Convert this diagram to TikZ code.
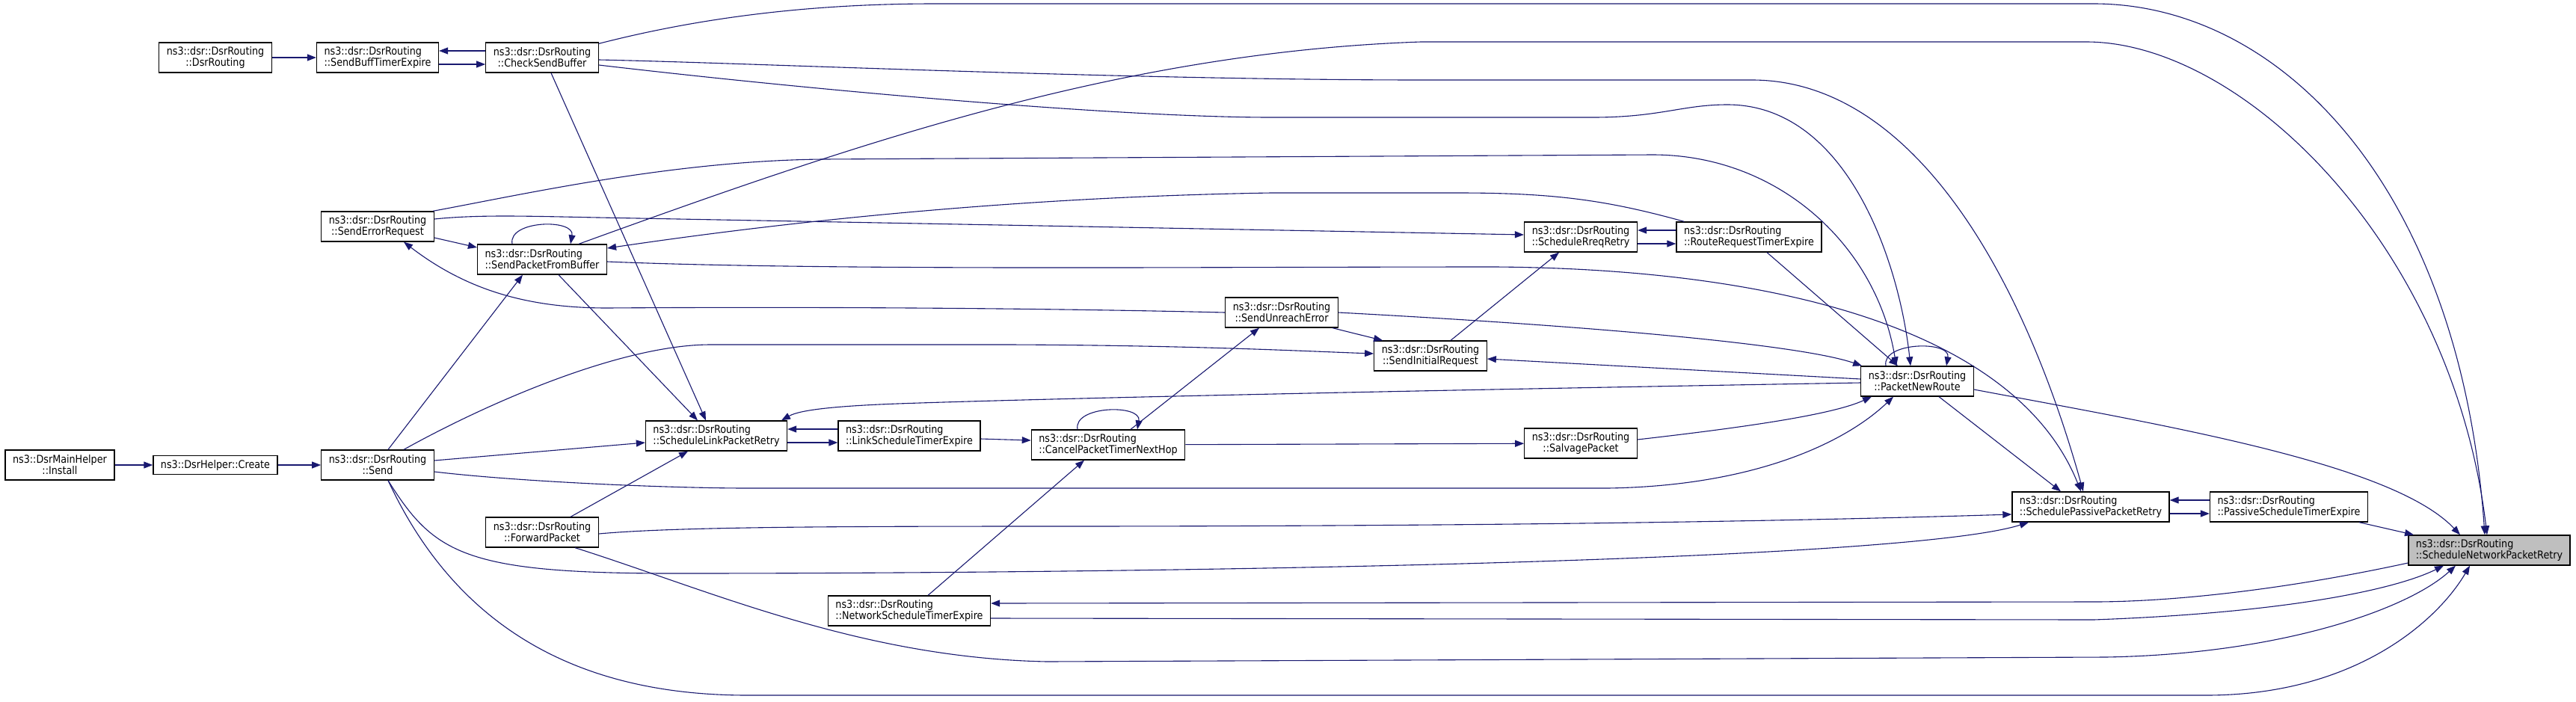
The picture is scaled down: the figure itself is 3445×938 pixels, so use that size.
\documentclass[tikz,border=0pt]{standalone}
\usepackage{fontspec}
\setmainfont{DejaVu Sans}[FakeStretch=0.88]
\usetikzlibrary{arrows.meta,positioning}
\definecolor{edgeblue}{HTML}{191970}

\begin{document}
\begin{tikzpicture}[x=1pt,y=-1pt,
  fn/.style={draw=black, line width=1.3pt, fill=white, inner xsep=10pt, inner ysep=0pt,
    minimum height=40pt, align=center, font=\fontsize{14.5}{15}\selectfont},
  fnl/.style={fn, align=left},
  call/.style={draw=edgeblue, line width=1.1pt, -{Triangle[length=12pt,width=9pt]}}]
\fill[white] (0,0) rectangle (3445,938);
\node[fn] (inst) at (80,622) {ns3::DsrMainHelper\\::Install};
\node[fn, minimum height=25pt] (crt) at (288,622) {ns3::DsrHelper::Create};
\node[fn] (dsr) at (288,77) {ns3::dsr::DsrRouting\\::DsrRouting};
\node[fnl] (sbte) at (505,77) {ns3::dsr::DsrRouting\\::SendBuffTimerExpire};
\node[fn] (csb) at (725,77) {ns3::dsr::DsrRouting\\::CheckSendBuffer};
\node[fn] (ser) at (505,303) {ns3::dsr::DsrRouting\\::SendErrorRequest};
\node[fn] (send) at (505,622) {ns3::dsr::DsrRouting\\::Send};
\node[fnl] (spfb) at (725,347) {ns3::dsr::DsrRouting\\::SendPacketFromBuffer};
\node[fn] (fwd) at (725,712) {ns3::dsr::DsrRouting\\::ForwardPacket};
\node[fnl] (slpr) at (958,583) {ns3::dsr::DsrRouting\\::ScheduleLinkPacketRetry};
\node[fnl] (nste) at (1216,817) {ns3::dsr::DsrRouting\\::NetworkScheduleTimerExpire};
\node[fnl] (lste) at (1216,583) {ns3::dsr::DsrRouting\\::LinkScheduleTimerExpire};
\node[fnl] (cptnh) at (1482,595) {ns3::dsr::DsrRouting\\::CancelPacketTimerNextHop};
\node[fn] (sue) at (1714,418) {ns3::dsr::DsrRouting\\::SendUnreachError};
\node[fn] (sir) at (1913,476) {ns3::dsr::DsrRouting\\::SendInitialRequest};
\node[fn] (srr) at (2114,317) {ns3::dsr::DsrRouting\\::ScheduleRreqRetry};
\node[fn] (salv) at (2114,593) {ns3::dsr::DsrRouting\\::SalvagePacket};
\node[fnl] (rrte) at (2339,317) {ns3::dsr::DsrRouting\\::RouteRequestTimerExpire};
\node[fn] (pnr) at (2564,510) {ns3::dsr::DsrRouting\\::PacketNewRoute};
\node[fnl] (sppr) at (2796,678) {ns3::dsr::DsrRouting\\::SchedulePassivePacketRetry};
\node[fnl] (pste) at (3061,678) {ns3::dsr::DsrRouting\\::PassiveScheduleTimerExpire};
\node[fnl, fill=black!25] (snpr) at (3329,736) {ns3::dsr::DsrRouting\\::ScheduleNetworkPacketRetry};

\draw[call] (inst) -- (crt);
\draw[call] (crt) -- (send);
\draw[call] (dsr) -- (sbte);
\draw[call] ([yshift=9pt]csb.west) -- ([yshift=9pt]sbte.east);
\draw[call] ([yshift=-9pt]sbte.east) -- ([yshift=-9pt]csb.west);
\draw[call] ([yshift=-15pt]ser.east) -- ([yshift=16pt]spfb.west);
\draw[call] ([xshift=-40pt]spfb.north) .. controls +(-6,-32) and +(6,-34) .. ([xshift=38pt]spfb.north);
\draw[call] (sue.west) .. controls (1300,410) and (950,411) .. (812,412) .. controls (700,412) and (620,385) .. ([xshift=35pt]ser.south);
\draw[call] ([xshift=14pt]send.north) -- ([xshift=-26pt]spfb.south);
\draw[call] ([xshift=22pt]spfb.south) -- ([xshift=-25pt]slpr.north);
\draw[call] ([xshift=12pt]csb.south) -- ([xshift=-14pt]slpr.north);
\draw[call] ([yshift=6pt]send.east) -- ([yshift=-9pt]slpr.west);
\draw[call] ([xshift=38pt]fwd.north) -- ([xshift=-38pt]slpr.south);
\draw[call] ([yshift=9pt]lste.west) -- ([yshift=9pt]slpr.east);
\draw[call] ([yshift=-9pt]slpr.east) -- ([yshift=-9pt]lste.west);
\draw[call] ([yshift=-4pt]lste.east) -- ([yshift=6pt]cptnh.west);
\draw[call] ([xshift=-41pt]cptnh.north) .. controls +(-6,-32) and +(6,-34) .. ([xshift=39pt]cptnh.north);
\draw[call] ([xshift=30pt]cptnh.north) -- ([xshift=-30pt]sue.south);
\draw[call] ([xshift=25pt]nste.north) -- ([xshift=-32pt]cptnh.south);
\draw[call] (cptnh) -- (salv);
\draw[call] ([xshift=-8pt]sue.south east) -- ([xshift=12pt]sir.north west);
\draw[call] ([xshift=27pt]sir.north) -- ([xshift=-29pt]srr.south);
\draw[call] ([yshift=3pt]pnr.west) -- ([yshift=-4pt]sir.east);
\draw[call] ([yshift=9pt]rrte.west) -- ([yshift=9pt]srr.east);
\draw[call] ([yshift=-9pt]srr.east) -- ([yshift=-9pt]rrte.west);
\draw[call] ([yshift=10pt]ser.east) .. controls (640,287) and (700,289) .. (800,291) -- ([yshift=3pt]srr.west);
\draw[call] ([xshift=11pt]rrte.north west) .. controls (2150,268) and (2080,258) .. (1950,258) -- (1700,258) .. controls (1450,262) and (1150,282) .. ([yshift=15pt]spfb.east);
\draw[call] ([xshift=24pt]rrte.south) -- ([xshift=-26pt]pnr.north);
\draw[call] (sue.east) .. controls (2200,440) and (2420,465) .. ([xshift=2pt]pnr.north west);
\draw[call] ([xshift=-42pt]pnr.north) .. controls +(-6,-32) and +(6,-34) .. ([xshift=39pt]pnr.north);
\draw[call] ([yshift=5pt]salv.east) .. controls (2330,572) and (2450,555) .. ([xshift=-61pt]pnr.south);
\draw[call] ([yshift=-9pt]send.east) .. controls (700,645) and (900,653) .. (1000,653) -- (2150,653) .. controls (2350,650) and (2470,590) .. ([xshift=-32pt]pnr.south);
\draw[call] ([xshift=35pt]send.north) .. controls (650,540) and (830,461) .. (950,461) -- (1350,461) .. controls (1600,462) and (1750,470) .. ([yshift=3pt]sir.west);
\draw[call] ([yshift=-2pt]pnr.west) .. controls (1900,522) and (1400,533) .. (1200,540) .. controls (1120,543) and (1070,548) .. ([xshift=87pt]slpr.north);
\draw[call] ([yshift=-11pt]pnr.east) .. controls (2900,570) and (3200,620) .. ([xshift=-39pt]snpr.north);
\draw[call] ([xshift=29pt]pnr.south) -- ([xshift=-40pt]sppr.north);
\draw[call] ([yshift=9pt]pste.west) -- ([yshift=9pt]sppr.east);
\draw[call] ([yshift=-9pt]sppr.east) -- ([yshift=-9pt]pste.west);
\draw[call] ([xshift=94pt]pste.south) -- ([xshift=-101pt]snpr.north);
\draw[call] ([yshift=-2pt]fwd.east) .. controls (900,705) and (1100,704) .. (1400,704) .. controls (2000,704) and (2400,697) .. ([yshift=-10pt]sppr.west);
\draw[call] ([xshift=14pt]send.south) .. controls (580,740) and (620,767) .. (900,767) .. controls (1600,767) and (2550,750) .. ([xshift=-83pt]sppr.south);
\draw[call] ([xshift=44pt]fwd.south) .. controls (950,790) and (1150,880) .. (1400,885) -- (2816,879) .. controls (3050,875) and (3220,815) .. ([xshift=-45pt]snpr.south);
\draw[call] ([xshift=14pt]send.south) .. controls (620,860) and (800,930) .. (1000,930) -- (2950,930) .. controls (3150,930) and (3260,830) .. ([xshift=-26pt]snpr.south);
\draw[call] ([yshift=-10pt]nste.east) -- (2800,829) .. controls (3050,820) and (3200,790) .. ([xshift=-61pt]snpr.south);
\draw[call] ([yshift=-17pt]snpr.west) .. controls (3050,790) and (2900,805) .. (2800,805) -- ([yshift=10pt]nste.east);
\draw[call] ([yshift=-2pt]csb.north east) .. controls (950,20) and (1100,5) .. (1250,5) -- (2800,5) .. controls (3050,5) and (3290,250) .. ([xshift=-6pt]snpr.north);
\draw[call] ([xshift=49pt]spfb.north) .. controls (1150,190) and (1500,70) .. (1900,56) -- (2790,56) .. controls (3000,56) and (3280,330) .. ([xshift=-3pt]snpr.north);
\draw[call] ([yshift=-3pt]csb.east) .. controls (1000,84) and (1500,107) .. (1904,107) -- (2343,107) .. controls (2550,107) and (2700,350) .. ([xshift=-10pt]sppr.north);
\draw[call] ([yshift=-3pt]spfb.east) .. controls (1100,362) and (1600,357) .. (2000,357) .. controls (2400,360) and (2700,450) .. ([xshift=-13pt]sppr.north);
\draw[call] ([yshift=-10pt]csb.east) .. controls (1100,122) and (1500,157) .. (1700,157) -- (2130,157) .. controls (2220,157) and (2250,140) .. (2310,140) .. controls (2470,140) and (2540,350) .. ([xshift=-9pt]pnr.north);
\draw[call] ([xshift=-2pt]ser.north east) .. controls (700,260) and (900,215) .. (1100,213) -- (2210,207) .. controls (2380,207) and (2510,330) .. ([xshift=-28pt]pnr.north);
\end{tikzpicture}
\end{document}
